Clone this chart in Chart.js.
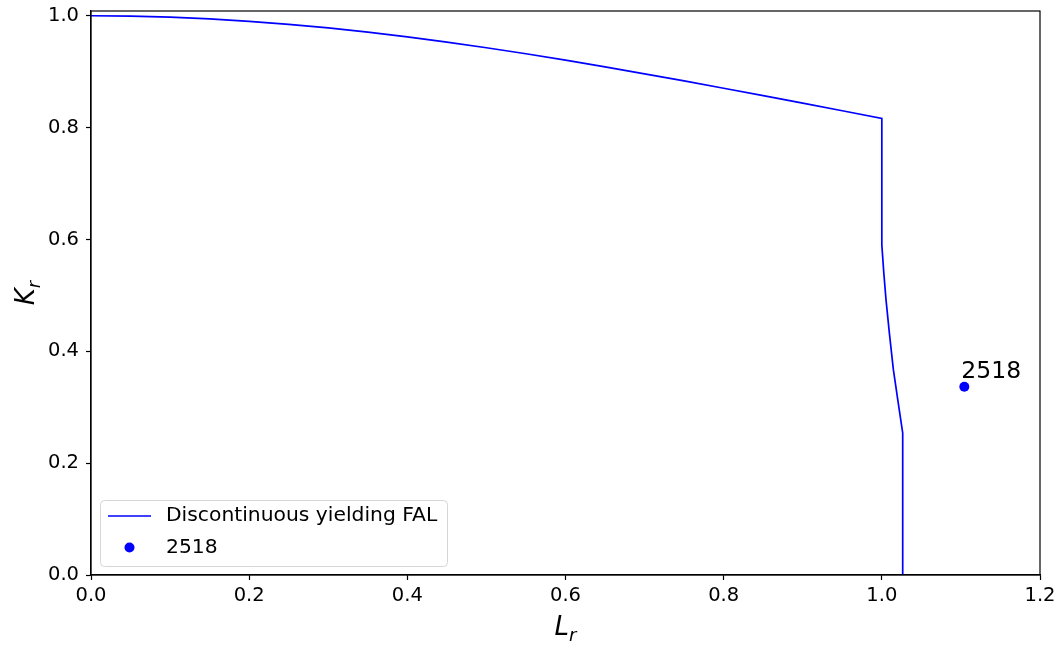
<!DOCTYPE html>
<html>
<head>
<meta charset="utf-8">
<script src="https://cdn.jsdelivr.net/npm/chart.js@4.4.1/dist/chart.umd.min.js"></script>
<style>
  html, body { margin: 0; padding: 0; background: #fff; }
  #wrap { width: 1060px; height: 646px; }
</style>
</head>
<body>
<div id="wrap"><canvas id="fal"></canvas></div>
<script>
// failure assessment line
const fal_lr = [0, 0.05, 0.1, 0.15, 0.2, 0.25, 0.3, 0.35, 0.4, 0.45, 0.5,
  0.55, 0.6, 0.65, 0.7, 0.75, 0.8, 0.85, 0.9, 0.95, 1.0,
  1.0, 1.0025, 1.0053, 1.0095, 1.0145, 1.0205, 1.0264, 1.0264];
const fal_kr = [1.0, 0.9994, 0.9975, 0.9944, 0.9901, 0.9847, 0.9782, 0.9707, 0.9623, 0.9529, 0.9428,
  0.9320, 0.9206, 0.9086, 0.8962, 0.8835, 0.8704, 0.8571, 0.8437, 0.8301, 0.8165,
  0.590, 0.540, 0.492, 0.433, 0.368, 0.310, 0.254, 0];

// assessed point
const pt_label = "2518";
const pt_lr = [1.1043];
const pt_kr = [0.3367];

const x_ticks = [0, 0.2, 0.4, 0.6, 0.8, 1.0, 1.2];
const y_ticks = [0, 0.2, 0.4, 0.6, 0.8, 1.0];

const BLUE = "#0000ff";
const FONT = "'DejaVu Sans', sans-serif";

const falPoints = fal_lr.map((v, i) => ({x: v, y: fal_kr[i]}));
const ptPoints = pt_lr.map((v, i) => ({x: v, y: pt_kr[i]}));

// frame, axis titles, point label and legend box
const extras = {
  id: "extras",
  afterDraw(chart) {
    const ctx = chart.ctx;
    const a = chart.chartArea;
    const xs = chart.scales.x, ys = chart.scales.y;
    ctx.save();

    // box around the plot
    ctx.strokeStyle = "#000";
    ctx.lineWidth = 1.2;
    ctx.strokeRect(a.left, a.top, a.right - a.left, a.bottom - a.top);

    // L_r
    ctx.fillStyle = "#000";
    ctx.textBaseline = "alphabetic";
    ctx.textAlign = "left";
    ctx.font = "italic 26px " + FONT;
    let wL = ctx.measureText("L").width;
    ctx.font = "italic 18px " + FONT;
    let wr = ctx.measureText("r").width;
    let cx = (a.left + a.right) / 2 - (wL + wr) / 2;
    ctx.font = "italic 26px " + FONT;
    ctx.fillText("L", cx, 635);
    ctx.font = "italic 18px " + FONT;
    ctx.fillText("r", cx + wL, 641);

    // K_r, rotated
    ctx.save();
    ctx.translate(34, (a.top + a.bottom) / 2);
    ctx.rotate(-Math.PI / 2);
    ctx.font = "italic 26px " + FONT;
    let wK = ctx.measureText("K").width;
    ctx.font = "italic 18px " + FONT;
    wr = ctx.measureText("r").width;
    let sx = -(wK + wr) / 2;
    ctx.font = "italic 26px " + FONT;
    ctx.fillText("K", sx, 0);
    ctx.font = "italic 18px " + FONT;
    ctx.fillText("r", sx + wK, 6);
    ctx.restore();

    // label next to the point
    ctx.font = "23.5px " + FONT;
    ctx.fillText(pt_label, xs.getPixelForValue(pt_lr[0]) - 3, ys.getPixelForValue(pt_kr[0]) - 9);

    // legend
    const lx = a.left + 9, ly = a.bottom - 75, lw = 347, lh = 66;
    ctx.fillStyle = "rgba(255,255,255,0.8)";
    ctx.strokeStyle = "#d6d6d6";
    ctx.lineWidth = 1;
    ctx.beginPath();
    ctx.roundRect(lx + 0.5, ly + 0.5, lw, lh, 4);
    ctx.fill();
    ctx.stroke();

    const ds = chart.data.datasets;
    ctx.font = "20.3px " + FONT;
    ctx.textBaseline = "middle";
    ctx.fillStyle = "#000";
    // line entry
    ctx.strokeStyle = BLUE;
    ctx.lineWidth = 1.6;
    ctx.beginPath();
    ctx.moveTo(lx + 8, ly + 16);
    ctx.lineTo(lx + 51, ly + 16);
    ctx.stroke();
    ctx.fillText(ds[0].label, lx + 66, ly + 16);
    // point entry
    ctx.fillStyle = BLUE;
    ctx.beginPath();
    ctx.arc(lx + 29.5, ly + 47.5, 5, 0, Math.PI * 2);
    ctx.fill();
    ctx.fillStyle = "#000";
    ctx.fillText(ds[1].label, lx + 66, ly + 48);

    ctx.restore();
  }
};

new Chart(document.getElementById("fal"), {
  type: "scatter",
  data: {
    datasets: [{
      label: "Discontinuous yielding FAL",
      data: falPoints,
      showLine: true,
      borderColor: BLUE,
      backgroundColor: BLUE,
      borderWidth: 1.7,
      pointRadius: 0,
      tension: 0
    }, {
      label: pt_label,
      data: ptPoints,
      borderColor: BLUE,
      backgroundColor: BLUE,
      pointRadius: 5,
      pointBorderWidth: 0
    }]
  },
  options: {
    responsive: true,
    maintainAspectRatio: false,
    animation: false,
    devicePixelRatio: 1,
    layout: { padding: { left: 0, right: 20, top: 11, bottom: 0 } },
    plugins: {
      legend: { display: false },
      tooltip: { enabled: false }
    },
    scales: {
      x: {
        type: "linear",
        min: 0,
        max: 1.2,
        afterBuildTicks: s => { s.ticks = x_ticks.map(v => ({value: v})); },
        afterFit: s => { s.height = 71; s.paddingLeft = 0; s.paddingRight = 0; },
        grid: { drawOnChartArea: false, drawTicks: true, tickLength: 5, color: "#000", tickWidth: 1.2 },
        border: { display: true, color: "#000", width: 1.2 },
        ticks: {
          color: "#000",
          padding: 4,
          maxRotation: 0,
          font: { family: FONT, size: 19.5 },
          callback: v => Number(v).toFixed(1)
        }
      },
      y: {
        type: "linear",
        min: 0,
        max: 1.0085,
        afterBuildTicks: s => { s.ticks = y_ticks.map(v => ({value: v})); },
        afterFit: s => { s.width = 91; s.paddingTop = 0; s.paddingBottom = 0; },
        grid: { drawOnChartArea: false, drawTicks: true, tickLength: 5, color: "#000", tickWidth: 1.2 },
        border: { display: true, color: "#000", width: 1.2 },
        ticks: {
          color: "#000",
          padding: 7,
          font: { family: FONT, size: 19.5 },
          callback: v => Number(v).toFixed(1)
        }
      }
    }
  },
  plugins: [extras]
});
</script>
</body>
</html>
